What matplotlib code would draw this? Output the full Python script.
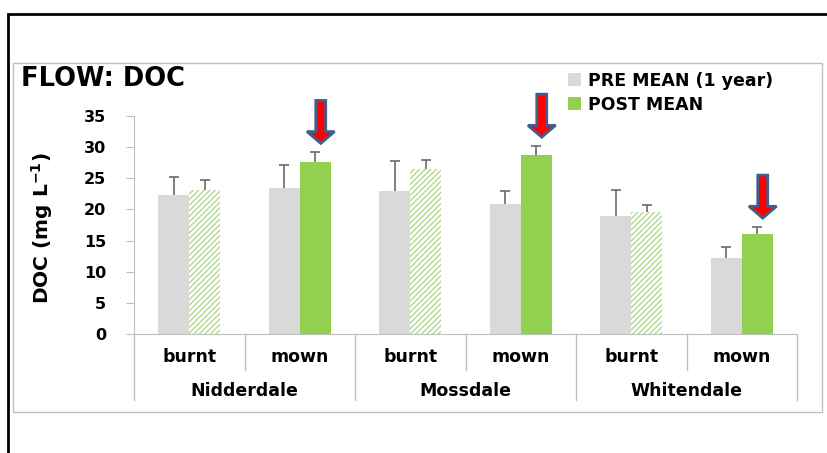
import matplotlib

matplotlib.use("Agg")
import matplotlib.pyplot as plt
from matplotlib.patches import FancyArrow, Patch, Rectangle
import numpy as np

sites = ["Nidderdale", "Mossdale", "Whitendale"]
treatments = ["burnt", "mown"]
pre_mean = [22.3, 23.4, 23.0, 20.9, 19.0, 12.2]
pre_err = [2.9, 3.7, 4.8, 2.1, 4.1, 1.8]
post_mean = [23.1, 27.6, 26.5, 28.7, 19.6, 16.1]
post_err = [1.6, 1.6, 1.4, 1.5, 1.1, 1.1]
arrow_on = [False, True, False, True, False, True]

GREY = "#D9D9D9"
GREEN = "#92D050"
HATCH_GREEN = "#B0D98E"
ERR = "#6A6A6A"
W, H = 827, 453

plt.rcParams["hatch.linewidth"] = 1.0
plt.rcParams["font.family"] = "DejaVu Sans"
plt.rcParams["font.weight"] = "bold"
plt.rcParams["mathtext.default"] = "bf"
fig = plt.figure(figsize=(W / 100, H / 100), dpi=100)

# frames
fig.add_artist(Rectangle((8 / W, -0.1), 1.2, (H - 14) / H + 0.1, transform=fig.transFigure,
                         fill=False, edgecolor="black", linewidth=2))
fig.add_artist(Rectangle((13 / W, (H - 412) / H), (822 - 13) / W, (412 - 63) / H,
                         transform=fig.transFigure, fill=False, edgecolor="#BFBFBF", linewidth=1))

ax = fig.add_axes([134 / W, (H - 334) / H, (797 - 134) / W, (334 - 116) / H])
x = np.arange(len(pre_mean))
bw = 0.28


def upper_errors(xs, means, errs):
    tops = np.array(means) + np.array(errs)
    ax.vlines(xs, means, tops, color=ERR, linewidth=1.2, zorder=3)
    ax.plot(xs, tops, linestyle="none", marker="_", markersize=7, markeredgewidth=1.2,
            color=ERR, zorder=3)


ax.bar(x - bw / 2, pre_mean, bw, color=GREY, linewidth=0, zorder=2)
upper_errors(x - bw / 2, pre_mean, pre_err)

hatched = [not a for a in arrow_on]
for xi, val, h in zip(x, post_mean, hatched):
    if h:
        ax.bar(xi + bw / 2, val, bw, color="white", edgecolor=HATCH_GREEN, hatch="//////",
               linewidth=0, zorder=2)
    else:
        ax.bar(xi + bw / 2, val, bw, color=GREEN, linewidth=0, zorder=2)
upper_errors(x + bw / 2, post_mean, post_err)

for xi, val, err, a in zip(x, post_mean, post_err, arrow_on):
    if a:
        tip = val + err + 1.4
        length = 6.9
        ax.add_patch(FancyArrow(xi + bw / 2 + 0.05, tip + length, 0, -length, width=0.09,
                                head_width=0.25, head_length=1.9, length_includes_head=True,
                                facecolor="#FF0000", edgecolor="#3F5F8F", linewidth=2,
                                clip_on=False, zorder=5))

ax.set_xlim(-0.5, len(x) - 0.5)
ax.set_ylim(0, 35)
ax.set_yticks(np.arange(0, 36, 5))
ax.tick_params(axis="y", length=6, color="#BFBFBF", pad=14, labelsize=11.5)
ax.set_xticks([])
for side in ["top", "right"]:
    ax.spines[side].set_visible(False)
ax.spines["left"].set_color("#BFBFBF")
ax.spines["bottom"].set_color("#BFBFBF")

# two-level category axis
trans = ax.get_xaxis_transform()
ax_h = 334 - 116
for i in range(len(x)):
    ax.text(i, -23 / ax_h, treatments[i % 2], transform=trans, ha="center", va="center",
            fontsize=12.5, fontweight="bold")
    if i % 2 == 1:
        ax.plot([i - 0.5, i - 0.5], [0, -36 / ax_h], transform=trans, color="#BFBFBF",
                linewidth=1, clip_on=False)
for g, name in enumerate(sites):
    ax.text(2 * g + 0.5, -57 / ax_h, name, transform=trans, ha="center", va="center",
            fontsize=12.5, fontweight="bold")
for b in range(len(sites) + 1):
    ax.plot([2 * b - 0.5, 2 * b - 0.5], [0, -66 / ax_h], transform=trans, color="#BFBFBF",
            linewidth=1, clip_on=False)

fig.text(21 / W, 1 - 79 / H, "FLOW: DOC", fontsize=18.5, fontweight="bold",
         va="center", ha="left")
fig.text(42 / W, 1 - 228 / H, "DOC (mg L$^{-1}$)", rotation=90, fontsize=14.5,
         fontweight="bold", va="center", ha="center")

handles = [Patch(facecolor=GREY, edgecolor="none"), Patch(facecolor=GREEN, edgecolor="none")]
fig.legend(handles, ["PRE MEAN (1 year)", "POST MEAN"], loc="upper left",
           bbox_to_anchor=(552 / W, 1 - 56 / H), frameon=False, handlelength=0.75,
           handleheight=0.75, handletextpad=0.45, labelspacing=0.35,
           prop={"weight": "bold", "size": 12.5})

fig.savefig("out.png", dpi=100)
